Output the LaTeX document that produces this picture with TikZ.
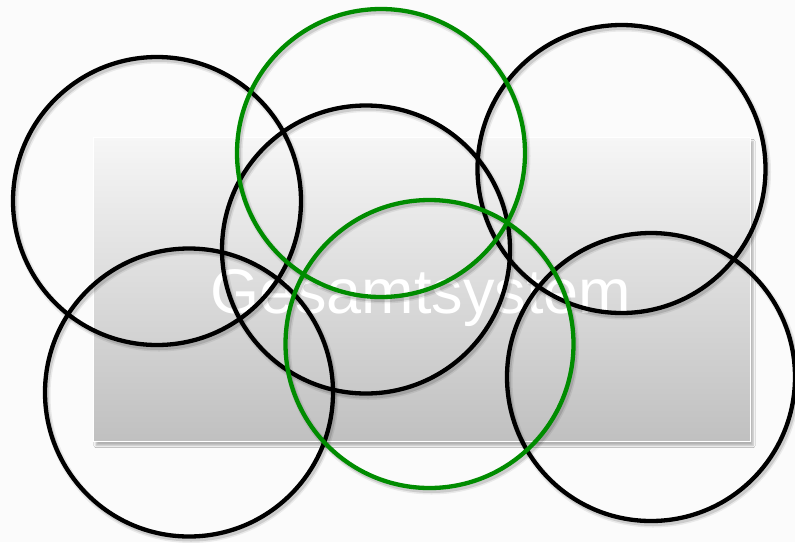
\documentclass[tikz,border=0pt]{standalone}
\usepackage{fontspec}
\setmainfont{Liberation Sans}
\usetikzlibrary{shadows.blur}
\definecolor{bgc}{HTML}{FBFBFB}
\definecolor{topc}{HTML}{F6F6F6}
\definecolor{botc}{HTML}{C0C0C0}
\definecolor{ringgreen}{HTML}{008C00}
\begin{document}
\begin{tikzpicture}[x=1pt,y=-1pt,
  ring/.style={circle, draw=black, line width=4.3pt, minimum size=288pt, inner sep=0pt},
  greenring/.style={ring, draw=ringgreen},
  ringshadow/.style={draw=black, line width=7pt, opacity=0.07},
  ringshadowcore/.style={draw=black, line width=4pt, opacity=0.12},
  panel/.style={draw=white, line width=1pt, top color=topc, bottom color=botc,
    blur shadow={shadow xshift=3pt, shadow yshift=-4pt, shadow blur steps=5, shadow opacity=30}}
]
\fill[bgc] (0,0) rectangle (795,542);
\useasboundingbox (0,0) rectangle (795,542);
\node[panel, minimum width=657pt, minimum height=304pt, inner sep=0pt] (p) at (421.5,289.5) {};
\node[text=white, font=\fontsize{63}{70}\selectfont, inner sep=0pt, anchor=base] (t) at (421,313) {Gesamtsystem};
% soft shadows of the rings
\foreach \x/\y in {157/201, 366/249.5, 621.5/169, 189/392.5, 651/377, 381/153, 429.5/344}{
  \draw[ringshadow] (\x+2,\y+3) circle[radius=144pt];
  \draw[ringshadowcore] (\x+2,\y+3) circle[radius=144pt];
}
\node[ring] (c1) at (157,201) {};
\node[ring] (c2) at (366,249.5) {};
\node[ring] (c3) at (621.5,169) {};
\node[ring] (c4) at (189,392.5) {};
\node[ring] (c5) at (651,377) {};
\node[greenring] (g1) at (381,153) {};
\node[greenring] (g2) at (429.5,344) {};
\end{tikzpicture}
\end{document}
